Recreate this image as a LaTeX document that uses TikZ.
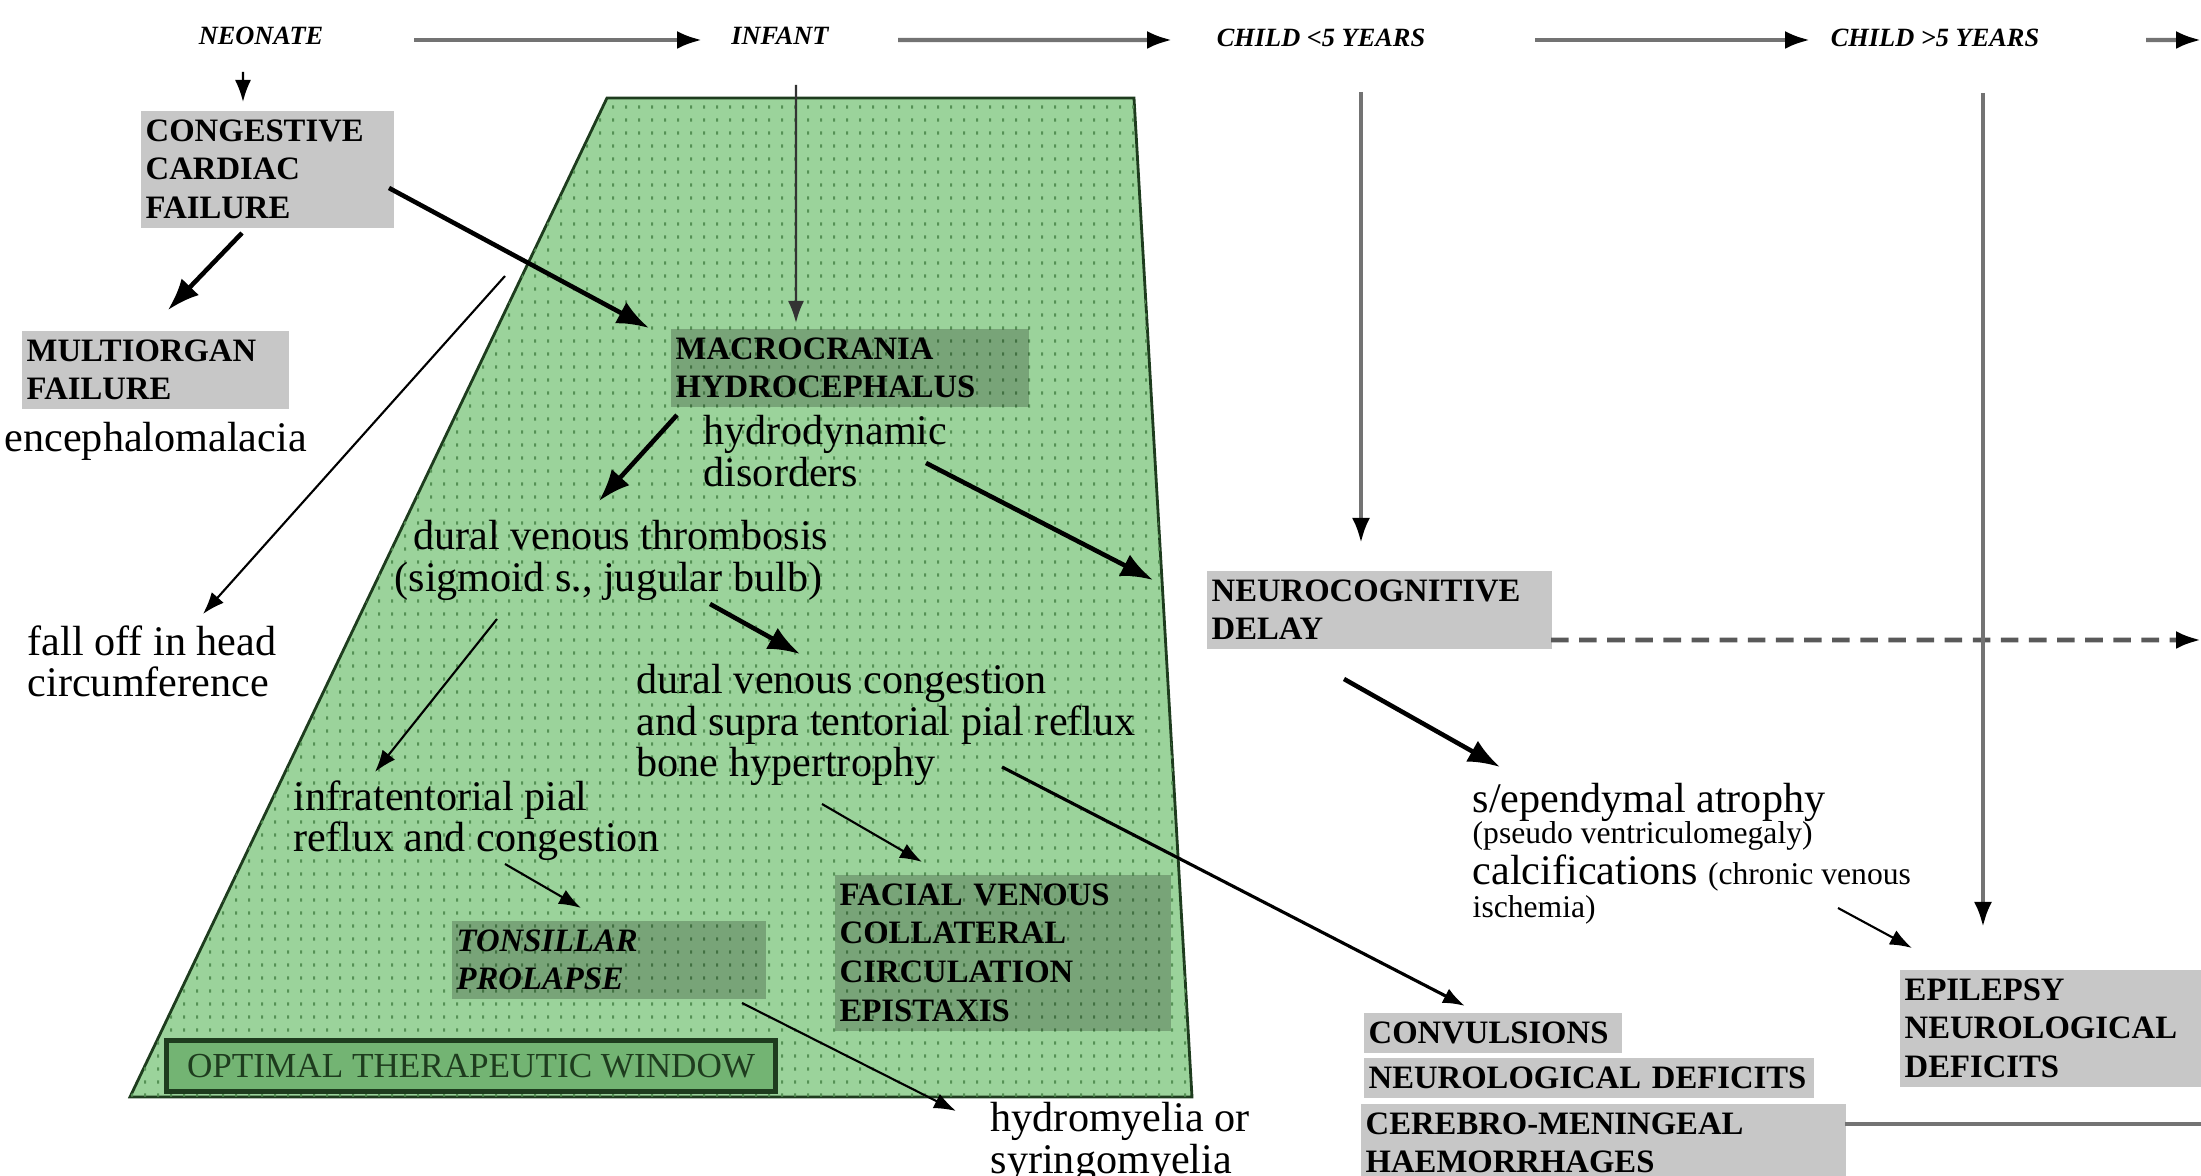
\documentclass[tikz,border=0pt]{standalone}
\usepackage{fontspec}
\setmainfont{Liberation Serif}
\usetikzlibrary{patterns.meta,arrows.meta}
\definecolor{windowgreen}{RGB}{155,211,155}
\definecolor{dotgreen}{RGB}{85,145,85}
\definecolor{windowline}{RGB}{30,60,30}
\definecolor{optgreen}{RGB}{115,180,115}
\tikzdeclarepattern{
  name=windowdots,
  type=uncolored,
  bounding box={(0pt,0pt) and (3.6pt,3.6pt)},
  tile size={(3.6pt,3.6pt)},
  code={\fill (1.5pt,1.3pt) rectangle (2.1pt,2.2pt);}
}

\begin{document}
\begin{tikzpicture}[
        age/.style={font=\fontsize{7.5}{9}\selectfont\bfseries\itshape, inner sep=0pt},
        box/.style={anchor=north west, fill=black, fill opacity=0.22, text opacity=1, inner xsep=0.05cm, inner ysep=0.09cm, align=left, font=\fontsize{9.3}{11}\selectfont\bfseries},
        txt/.style={anchor=north west, inner sep=0pt, align=left, font=\fontsize{12}{11.7}\selectfont},
        agearrow/.style={line width=1.2pt, black!55, -{Latex[length=2.5mm,width=1.8mm,black]}},
        fat/.style={line width=1.3pt, -{Latex[length=3.2mm,width=2.4mm]}},
        slim/.style={semithick, -{Latex[length=2.2mm,width=1.6mm]}}
    ]
        \useasboundingbox (0,0) rectangle (22.01,-11.76);

        \draw[windowline, line width=0.8pt, fill=windowgreen, postaction={pattern=windowdots, pattern color=dotgreen}] (6.07,-0.98) -- (11.34,-0.98) -- (11.92,-10.97) -- (1.30,-10.97) -- cycle;
        \node[draw=windowline, line width=1.5pt, fill=optgreen, text=windowline, anchor=north west, minimum width=6.09cm, minimum height=0.51cm, inner sep=0pt, font=\fontsize{10}{12}\selectfont] (window) at (1.64,-10.38) {OPTIMAL THERAPEUTIC WINDOW};

        \node[age] (neonate) at (2.61,-0.36) {NEONATE};
        \node[age] (infant) at (7.80,-0.36) {INFANT};
        \node[age] (childa) at (13.21,-0.38) {CHILD <5 YEARS};
        \node[age] (childb) at (19.35,-0.38) {CHILD >5 YEARS};
        \coordinate (agedge) at (22.01,-0.40);

        \node[box, text width=2.43cm] (ccf) at (1.40,-1.10) {CONGESTIVE\\CARDIAC\\FAILURE};
        \node[box, text width=2.57cm] (multi) at (0.21,-3.30) {MULTIORGAN\\FAILURE};
        \node[txt] (malacia) at (0.04,-4.22) {encephalomalacia};
        \node[txt] (headfall) at (0.27,-6.25) {fall off in head\\circumference};
        \coordinate (fallfrom) at (5.05,-2.76);

        \node[box, text width=3.48cm] (macro) at (6.70,-3.28) {MACROCRANIA\\HYDROCEPHALUS};
        \node[txt] (hydro) at (7.03,-4.15) {hydrodynamic\\disorders};
        \node[txt] (dural) at (3.94,-5.20) {\hspace*{1.9mm}dural venous thrombosis\\(sigmoid s., jugular bulb)};
        \node[txt] (cong) at (6.36,-6.64) {dural venous congestion\\and supra tentorial pial reflux\\bone hypertrophy};
        \node[txt] (infra) at (2.93,-7.80) {infratentorial pial\\reflux and congestion};
        \node[box, text width=3.04cm, font=\fontsize{9.3}{11}\selectfont\bfseries\itshape] (tonsil) at (4.51,-9.20) {TONSILLAR\\PROLAPSE};
        \node[box, text width=3.26cm] (facial) at (8.34,-8.74) {FACIAL VENOUS\\COLLATERAL\\CIRCULATION\\EPISTAXIS};
        \node[txt, font=\fontsize{12}{10.8}\selectfont] (hydromy) at (9.90,-11.02) {hydromyelia or\\syringomyelia};

        \node[box, text width=3.35cm] (neuro) at (12.06,-5.70) {NEUROCOGNITIVE\\DELAY};
        \coordinate (dashedge) at (22.01,-6.40);
        \node[txt] (atrophy) at (14.72,-7.83) {s/ependymal atrophy\\[-3pt]{\fontsize{9}{9}\selectfont(pseudo ventriculomegaly)}\\calcifications {\fontsize{9}{9}\selectfont(chronic venous}\\[-2.3pt]{\fontsize{9}{9}\selectfont ischemia)}};
        \node[box, text width=2.92cm] (epilepsy) at (18.99,-9.69) {EPILEPSY\\NEUROLOGICAL\\DEFICITS};
        \node[box, text width=2.48cm] (conva) at (13.63,-10.12) {CONVULSIONS};
        \node[box, text width=4.40cm] (convb) at (13.63,-10.57) {NEUROLOGICAL DEFICITS};
        \node[box, text width=4.75cm] (convc) at (13.60,-11.03) {CEREBRO-MENINGEAL\\HAEMORRHAGES};
        \coordinate (convedge) at (22.01,-11.24);

        \draw[agearrow] ([shift={(1.53,-0.04)}]neonate.center) -- ([shift={(-0.78,-0.04)}]infant.center);
        \draw[agearrow] ([shift={(1.18,-0.04)}]infant.center) -- ([shift={(-1.49,-0.02)}]childa.center);
        \draw[agearrow] ([shift={(2.14,-0.02)}]childa.center) -- ([shift={(-1.25,-0.02)}]childb.center);
        \draw[agearrow] ([shift={(2.11,-0.02)}]childb.center) -- (agedge);

        \draw[slim] ([shift={(-0.18,-0.36)}]neonate.center) -- ([shift={(1.03,0.08)}]ccf.north west);
        \draw[fat] ([shift={(1.02,-1.23)}]ccf.north west) -- ([shift={(1.47,0.20)}]multi.north west);
        \draw[fat] ([shift={(2.49,-0.78)}]ccf.north west) -- ([shift={(-0.21,0)}]macro.north west);
        \draw[slim] (fallfrom) -- ([shift={(1.76,0.11)}]headfall.north west);
        \draw[slim, black!80] ([shift={(0.16,-0.49)}]infant.center) -- ([shift={(1.26,0.05)}]macro.north west);

        \draw[fat] ([shift={(0.07,-0.87)}]macro.north west) -- ([shift={(2.05,0.19)}]dural.north west);
        \draw[fat] ([shift={(2.23,-0.48)}]hydro.north west) -- ([shift={(-0.53,-0.10)}]neuro.north west);
        \draw[fat] ([shift={(3.16,-0.84)}]dural.north west) -- ([shift={(1.64,0.10)}]cong.north west);
        \draw[slim] ([shift={(1.03,-0.99)}]dural.north west) -- ([shift={(0.82,0.08)}]infra.north west);
        \draw[slim] ([shift={(2.12,-0.84)}]infra.north west) -- ([shift={(1.30,0.12)}]tonsil.north west);
        \draw[slim] ([shift={(1.86,-1.40)}]cong.north west) -- ([shift={(0.88,0.12)}]facial.north west);
        \draw[slim, line width=0.9pt] ([shift={(3.66,-1.03)}]cong.north west) -- ([shift={(1.02,0.06)}]conva.north west);
        \draw[slim] ([shift={(2.91,-0.83)}]tonsil.north west) -- ([shift={(-0.34,-0.09)}]hydromy.north west);

        \draw[agearrow] ([shift={(0.40,-0.54)}]childa.center) -- ([shift={(1.55,0.27)}]neuro.north west);
        \draw[line width=1.3pt, black!65, dash pattern=on 5pt off 3pt, -{Latex[length=2.5mm,width=1.8mm,black]}] ([shift={(3.45,-0.70)}]neuro.north west) -- (dashedge);
        \draw[fat] ([shift={(1.38,-1.09)}]neuro.north west) -- ([shift={(0.28,0.16)}]atrophy.north west);
        \draw[slim] ([shift={(3.66,-1.25)}]atrophy.north west) -- ([shift={(0.13,0.21)}]epilepsy.north west);
        \draw[agearrow] ([shift={(0.48,-0.55)}]childb.center) -- ([shift={(0.84,0.42)}]epilepsy.north west);
        \draw[line width=1.2pt, black!55] ([shift={(4.85,-0.21)}]convc.north west) -- (convedge);
    \end{tikzpicture}
\end{document}
